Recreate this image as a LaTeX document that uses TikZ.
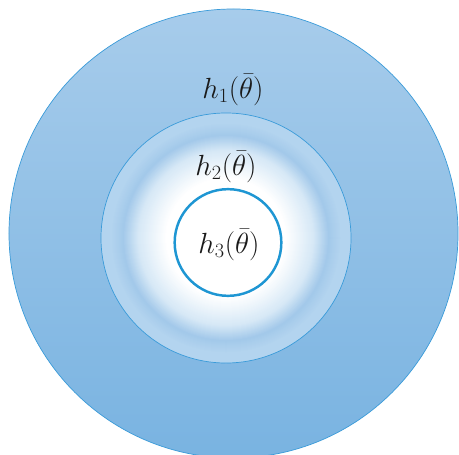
\documentclass[tikz,border=0pt]{standalone}
\usetikzlibrary{positioning}
\definecolor{RingEdge}{HTML}{3A9BD9}
\definecolor{InnerEdge}{HTML}{1E96D3}
\definecolor{OuterTop}{HTML}{A7CCEB}
\definecolor{OuterBottom}{HTML}{79B3E1}
\definecolor{RingLight}{HTML}{B3D4EF}
\definecolor{RingDeep}{HTML}{A3C9EA}
\definecolor{RingPale}{HTML}{D6E8F6}
\definecolor{Ink}{HTML}{1A1A1A}

\begin{document}
\begin{tikzpicture}[
  x=0.03cm,y=-0.03cm,
  disc/.style={circle,inner sep=0pt,outer sep=0pt,line width=0.6pt},
  outerdisc/.style={disc,draw=RingEdge,top color=OuterTop,bottom color=OuterBottom,minimum size=13.47cm},
  ringdisc/.style={disc,draw=RingEdge,fill=RingLight,minimum size=7.5cm},
  innerdisc/.style={disc,draw=InnerEdge,fill=white,line width=2.1pt,minimum size=3.2cm},
  lbl/.style={text=Ink,font=\fontsize{24}{28}\selectfont}
]
\useasboundingbox (0,0) rectangle (459,454);
\clip (0,0) rectangle (459,454);
\fill[white] (0,0) rectangle (459,454);
\node[outerdisc] (outer) at (233.5,233.5) {};
\node[ringdisc] (ring) at (226,238) {};
\foreach \r in {115,114,...,103}{
  \pgfmathtruncatemacro{\p}{100*(\r-103)/12}
  \fill[RingLight!\p!RingDeep] (ring.center) circle (\r);
}
\foreach \r in {102,101,...,88}{
  \pgfmathtruncatemacro{\p}{100*(\r-88)/15}
  \fill[RingDeep!\p!RingPale] (ring.center) circle (\r);
}
\foreach \r in {87,86,...,60}{
  \pgfmathtruncatemacro{\p}{100*(\r-60)/28}
  \fill[RingPale!\p!white] (ring.center) circle (\r);
}
\node[innerdisc] (inner) at (228,242.5) {};
\node[lbl] (h1) at (233,90) {$h_1(\bar{\theta})$};
\node[lbl] (h2) at (226,167) {$h_2(\bar{\theta})$};
\node[lbl] (h3) at (229,245) {$h_3(\bar{\theta})$};
\end{tikzpicture}
\end{document}
